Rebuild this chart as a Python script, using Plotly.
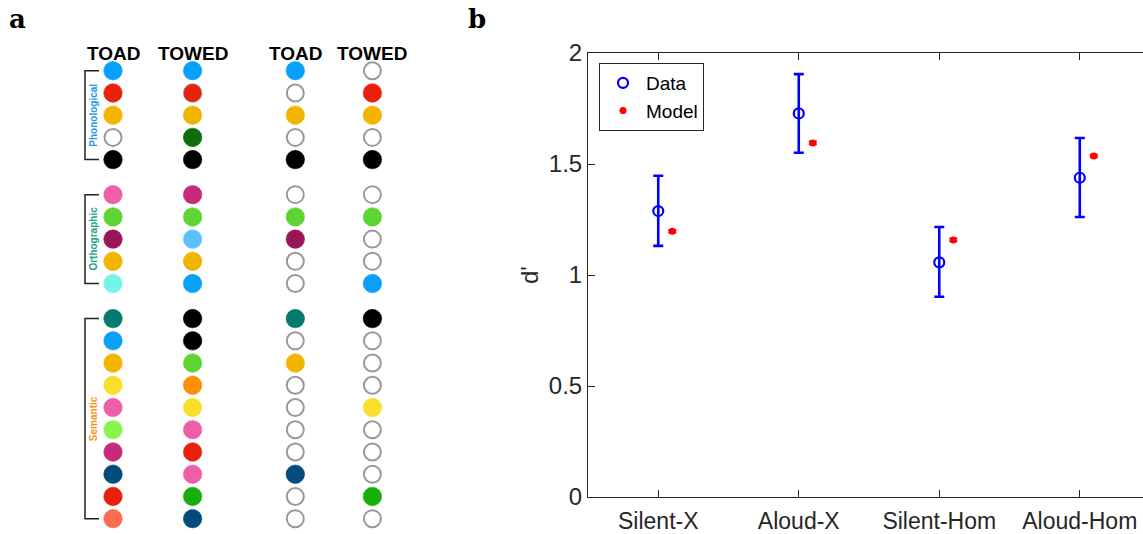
import plotly.graph_objects as go

# the page body margin is removed in post_script, so figure pixels = window pixels
OFF = 0
W, H = 1143, 534


def px(x):
    return (x - OFF) / W


def py(y):
    return 1 - (y - OFF) / H


# ---------------- Panel b data ----------------
categories = ["Silent-X", "Aloud-X", "Silent-Hom", "Aloud-Hom"]
data_mean = [1.288, 1.728, 1.057, 1.438]
data_upper = [1.447, 1.905, 1.216, 1.617]
data_lower = [1.131, 1.551, 0.902, 1.261]
model_mean = [1.197, 1.595, 1.158, 1.536]
model_err = [0.006, 0.006, 0.006, 0.006]
y_tick_vals = [0, 0.5, 1, 1.5, 2]
y_tick_text = ["0", "0.5", "1", "1.5", "2"]

# ---------------- Panel a data ----------------
groups = ["Phonological", "Orthographic", "Semantic"]
group_sizes = [5, 5, 10]
group_colors = ["#1e9be6", "#1ba38e", "#f7941d"]
column_headers = ["TOAD", "TOWED", "TOAD", "TOWED"]

C = {
    "blue": "#08a0f8", "red": "#e8210d", "amber": "#f3b400", "dgreen": "#0e6e0e",
    "black": "#000000", "pink": "#ee5fa8", "magenta": "#c62a78", "lime": "#5dd633",
    "plum": "#9a1558", "lblue": "#5ac2f8", "aqua": "#72f5e4", "teal": "#057a71",
    "orange": "#fd8e06", "yellow": "#f8df2c", "lgreen": "#84f54b", "navy": "#024b7c",
    "green": "#18af0d", "coral": "#fe6a4f", "empty": None,
}

col_toad_full = ["blue", "red", "amber", "empty", "black",
                 "pink", "lime", "plum", "amber", "aqua",
                 "teal", "blue", "amber", "yellow", "pink", "lgreen", "magenta", "navy", "red", "coral"]
col_towed_full = ["blue", "red", "amber", "dgreen", "black",
                  "magenta", "lime", "lblue", "amber", "blue",
                  "black", "black", "lime", "orange", "yellow", "pink", "red", "pink", "green", "navy"]
col_toad_part = ["blue", "empty", "amber", "empty", "black",
                 "empty", "lime", "plum", "empty", "empty",
                 "teal", "empty", "amber", "empty", "empty", "empty", "empty", "navy", "empty", "empty"]
col_towed_part = ["empty", "red", "amber", "empty", "black",
                  "empty", "lime", "empty", "empty", "blue",
                  "black", "empty", "empty", "empty", "yellow", "empty", "empty", "empty", "green", "empty"]
columns = [col_toad_full, col_towed_full, col_toad_part, col_towed_part]

# layout constants for panel a (window pixel units)
col_x = [113, 192.6, 295.3, 372.4]
row_start, row_pitch, group_gap = 70.7, 22.23, 12.8

row_y = []
row_group = []
i = 0
for g, n in enumerate(group_sizes):
    for _ in range(n):
        row_y.append(row_start + i * row_pitch + g * group_gap)
        row_group.append(g)
        i += 1

fig = go.Figure()

# panel a circles
for ci, col in enumerate(columns):
    fills = [C[c] if C[c] is not None else "#ffffff" for c in col]
    lcols = ["#999999" if C[c] is None else C[c] for c in col]
    if ci == 1:
        lcols[1] = "#8a8a8a"
    lw = [2 if C[c] is None else 0.6 for c in col]
    sizes = [17 if C[c] is None else 18.5 for c in col]
    fig.add_trace(go.Scatter(
        x=[col_x[ci]] * len(col), y=row_y, mode="markers",
        marker=dict(color=fills, size=sizes, opacity=1, line=dict(color=lcols, width=lw)),
        xaxis="x2", yaxis="y2", showlegend=False, hoverinfo="skip"))

# headers
for ci, h in enumerate(column_headers):
    fig.add_annotation(x=col_x[ci], y=53, xref="x2", yref="y2", text="<b>%s</b>" % h,
                       xanchor="center", yanchor="middle",
                       showarrow=False, font=dict(family="Liberation Sans, Arial", size=19, color="black"))

# brackets + group labels
br_x, br_tick = 85, 99
for g, name in enumerate(groups):
    ys = [y for y, gg in zip(row_y, row_group) if gg == g]
    y0, y1 = ys[0], ys[-1]
    fig.add_shape(type="path", xref="x2", yref="y2",
                  path="M %f %f L %f %f L %f %f L %f %f" % (br_tick, y0, br_x, y0, br_x, y1, br_tick, y1),
                  line=dict(color="#222222", width=1.5))
    fig.add_annotation(x=93.5, y=(y0 + y1) / 2, xref="x2", yref="y2", text="<b>%s</b>" % name,
                       textangle=-90, showarrow=False, xanchor="center", yanchor="middle",
                       font=dict(family="Liberation Sans, Arial", size=10, color=group_colors[g]))

# ---------------- Panel b traces ----------------
xd = [k + 1 for k in range(len(categories))]
xm = [k + 1.1 for k in range(len(categories))]
fig.add_trace(go.Scatter(
    x=xd, y=data_mean, mode="markers", name="Data",
    marker=dict(symbol="circle-open", size=10, color="#0000ff", line=dict(width=2.2, color="#0000ff")),
    error_y=dict(type="data", symmetric=False,
                 array=[u - m for u, m in zip(data_upper, data_mean)],
                 arrayminus=[m - l for m, l in zip(data_mean, data_lower)],
                 color="#0000ff", thickness=2.6, width=5)))
fig.add_trace(go.Scatter(
    x=xm, y=model_mean, mode="markers", name="Model",
    marker=dict(symbol="circle", size=7, color="#ff0000"),
    error_y=dict(type="data", array=model_err, color="#ff0000", thickness=2, width=4)))

font_main = "Liberation Sans, Arial"

fig.update_layout(
    width=W, height=H, margin=dict(l=0, r=0, t=0, b=0, pad=0, autoexpand=False),
    paper_bgcolor="white", plot_bgcolor="white",
    font=dict(family=font_main, size=23, color="#262626"),
    xaxis=dict(domain=[px(588), 1], range=[0.5, 4.45], tickvals=xd, ticktext=categories,
               ticks="inside", ticklen=7, tickcolor="#262626", showline=True, linecolor="#262626",
               linewidth=1, mirror="ticks", showgrid=False, zeroline=False, automargin=False,
               ticklabelstandoff=3, tickfont=dict(size=23)),
    yaxis=dict(domain=[py(497), py(53)], range=[0, 2], tickvals=y_tick_vals, ticktext=y_tick_text,
               ticks="inside", ticklen=7, tickcolor="#262626", showline=True, linecolor="#262626",
               linewidth=1, showgrid=False, zeroline=False, automargin=False, tickfont=dict(size=24)),
    xaxis2=dict(domain=[0, px(470)], range=[OFF, 470], visible=False, fixedrange=True, automargin=False),
    yaxis2=dict(domain=[0, 1], range=[534, OFF], visible=False, fixedrange=True, anchor="x2",
                automargin=False),
    legend=dict(x=px(599), y=py(63), xanchor="left", yanchor="top",
                bordercolor="#262626", borderwidth=1, bgcolor="white",
                font=dict(family=font_main, size=19, color="black"),
                itemwidth=36, tracegroupgap=0),
)

# y label
fig.add_annotation(x=px(529), y=py(275), xref="paper", yref="paper", text="d'", textangle=-90,
                   xanchor="center", yanchor="middle",
                   showarrow=False, font=dict(family=font_main, size=24, color="#262626"))

# panel labels
fig.add_annotation(x=px(17), y=py(19), xref="paper", yref="paper", text="<b>a</b>", showarrow=False,
                   xanchor="center", yanchor="middle",
                   font=dict(family="DejaVu Serif", size=26, color="black"))
fig.add_annotation(x=px(477), y=py(19), xref="paper", yref="paper", text="<b>b</b>", showarrow=False,
                   xanchor="center", yanchor="middle",
                   font=dict(family="DejaVu Serif", size=26, color="black"))

fig.write_html("out.html", config={"displayModeBar": False},
               post_script="document.body.style.margin='0';document.body.style.overflow='hidden';")
